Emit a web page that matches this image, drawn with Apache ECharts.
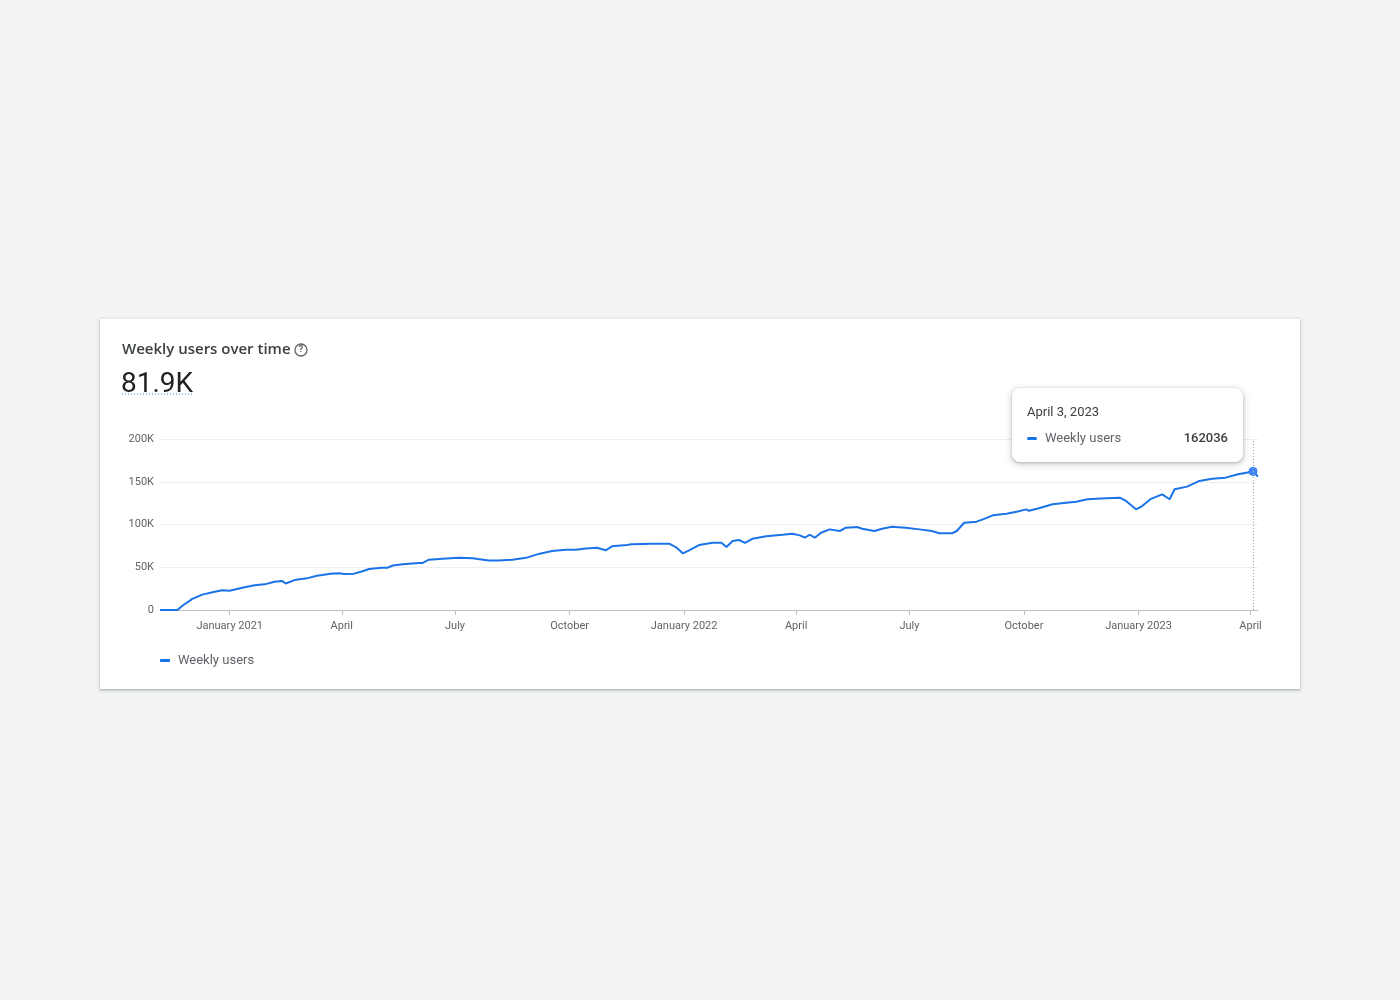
<!DOCTYPE html>
<html>
<head>
<meta charset="utf-8">
<script src="https://cdn.jsdelivr.net/npm/echarts@6/dist/echarts.min.js"></script>
<style>
  html, body { margin: 0; padding: 0; width: 1400px; height: 1000px; background: #f1f3f4; font-family: Roboto, sans-serif; }
  #card { position: absolute; left: 100px; top: 319px; width: 1200px; height: 370px; background: #fff;
          box-shadow: 0 1px 2px rgba(60,64,67,0.30), 0 1px 3px 1px rgba(60,64,67,0.12); }
  #chart { position: absolute; left: 0; top: 0; width: 1200px; height: 370px; }
</style>
</head>
<body>
<div id="card"><div id="chart"></div></div>
<script>
// ---- data ----
const dates = [
  '2020-11-06','2020-11-20','2020-11-24','2020-12-02','2020-12-10','2020-12-19','2020-12-26',
  '2021-01-01','2021-01-11','2021-01-21','2021-01-29','2021-02-06','2021-02-12','2021-02-15','2021-02-22',
  '2021-03-04','2021-03-12','2021-03-23','2021-03-30','2021-04-03','2021-04-11','2021-04-17','2021-04-23',
  '2021-05-03','2021-05-08','2021-05-12','2021-05-20','2021-06-02','2021-06-05','2021-06-10','2021-06-21',
  '2021-07-04','2021-07-15','2021-07-28','2021-08-05','2021-08-16','2021-08-27','2021-09-07','2021-09-17',
  '2021-09-28','2021-10-06','2021-10-14','2021-10-23','2021-10-30','2021-11-04','2021-11-16','2021-11-20',
  '2021-12-06','2021-12-20','2021-12-26','2021-12-31','2022-01-05','2022-01-13','2022-01-24','2022-01-31',
  '2022-02-04','2022-02-09','2022-02-14','2022-02-19','2022-02-25','2022-03-08','2022-03-21','2022-03-29',
  '2022-04-04','2022-04-08','2022-04-12','2022-04-16','2022-04-21','2022-04-28','2022-05-06','2022-05-11',
  '2022-05-20','2022-05-24','2022-06-03','2022-06-09','2022-06-17','2022-06-28','2022-07-09','2022-07-19',
  '2022-07-25','2022-08-04','2022-08-08','2022-08-14','2022-08-24','2022-08-29','2022-09-06','2022-09-17',
  '2022-09-25','2022-10-03','2022-10-05','2022-10-13','2022-10-24','2022-11-04','2022-11-12','2022-11-21',
  '2022-12-06','2022-12-17','2022-12-22','2022-12-30','2023-01-04','2023-01-11','2023-01-20','2023-01-26',
  '2023-01-30','2023-02-09','2023-02-19','2023-03-01','2023-03-12','2023-03-22','2023-04-03','2023-04-07'
];
const weeklyUsers = [
  0,0,5000,13000,18000,21000,23000,
  22500,26000,29000,30000,33000,34000,31000,35000,
  37000,40000,42500,43000,42000,42500,45000,48000,
  49500,49500,52000,53400,55000,55000,58800,60000,
  61000,60400,58000,58000,58800,61000,65900,69000,
  70500,70500,72000,72900,69800,74500,76000,76800,
  77600,77600,72900,66300,69800,76000,78700,78700,
  73700,80700,81900,78400,83400,86200,88000,89200,
  87300,84600,88000,84600,90400,94300,92400,96300,
  97000,95000,92400,95000,97400,96300,94300,92400,
  89700,89700,92400,102000,103300,106000,110700,112600,
  115000,117700,116000,119000,123600,125500,126700,129500,
  130600,131400,127500,117800,121600,130000,135300,129500,
  141200,144300,151000,153600,154800,158700,162036,156000
];
const tickDates = ['2021-01-01','2021-04-01','2021-07-01','2021-10-01','2022-01-01','2022-04-01','2022-07-01','2022-10-01','2023-01-01','2023-04-01'];
const tickLabels = ['January 2021','April','July','October','January 2022','April','July','October','January 2023','April'];
const yTickLabels = ['0','50K','100K','150K','200K'];
const seriesName = 'Weekly users';
const titleText = 'Weekly users over time';
const headlineValue = '81.9K';
const highlightDate = '2023-04-03';
const highlightLabel = 'April 3, 2023';

// ---- build ----
function ts(s) { const p = s.split('-').map(Number); return Date.UTC(p[0], p[1] - 1, p[2]); }
const seriesData = dates.map((d, i) => [ts(d), weeklyUsers[i]]);
const tickTimes = tickDates.map(ts);
const hiIndex = dates.indexOf(highlightDate);

const font = 'Roboto, "Noto Sans", sans-serif';
const chart = echarts.init(document.getElementById('chart'));
chart.setOption({
  animation: false,
  textStyle: { fontFamily: font },
  title: [
    { text: titleText, left: 22, top: 23, padding: 0,
      textStyle: { fontSize: 15, fontWeight: 600, color: '#3c4043', fontFamily: '"Open Sans", Roboto, sans-serif' } },
    { text: headlineValue, left: 21, top: 52, padding: 0,
      textStyle: { fontSize: 28, fontWeight: 400, color: '#202124', fontFamily: font } }
  ],
  graphic: [
    { type: 'circle', shape: { cx: 201, cy: 31, r: 6 }, style: { fill: 'none', stroke: '#5f6368', lineWidth: 1.3 } },
    { type: 'text', x: 201, y: 31, style: { text: '?', fontSize: 9, fontWeight: 700, fill: '#5f6368', align: 'center', verticalAlign: 'middle', fontFamily: font } },
    { type: 'line', shape: { x1: 22, y1: 75, x2: 92, y2: 75 }, style: { stroke: '#4285f4', lineWidth: 1, lineDash: [1, 2] } }
  ],
  grid: { left: 60, right: 42, top: 120, bottom: 79 },
  legend: {
    left: 55, top: 330, icon: 'roundRect', itemWidth: 10, itemHeight: 3, itemGap: 10,
    textStyle: { fontSize: 13, color: '#5f6368', fontFamily: font, padding: [0, 0, 0, 3] },
    data: [seriesName]
  },
  tooltip: {
    trigger: 'axis', triggerOn: 'none', alwaysShowContent: true,
    padding: 0, borderWidth: 0, backgroundColor: '#fff',
    extraCssText: 'border-radius:8px;box-shadow:0 1px 3px rgba(60,64,67,0.3),0 2px 6px 2px rgba(60,64,67,0.15);',
    position: function () { return [912, 69]; },
    axisPointer: { type: 'line', snap: true, label: { show: false }, lineStyle: { color: '#9aa0a6', type: [1, 2], width: 1 } },
    formatter: function (params) {
      const p = params[0];
      return '<div style="box-sizing:border-box;width:231px;height:74px;padding:15px 15px 0 15px;font-family:Roboto,sans-serif;">' +
        '<div style="font-size:13px;line-height:18px;color:#3c4043;">' + highlightLabel + '</div>' +
        '<div style="display:flex;align-items:center;margin-top:8px;font-size:13px;line-height:18px;color:#3c4043;">' +
        '<span style="display:inline-block;width:10px;height:3px;border-radius:2px;background:#1a73e8;margin-right:8px;"></span>' +
        '<span style="flex:1;color:#5f6368;">' + p.seriesName + '</span>' +
        '<span style="font-weight:500;color:#3c4043;">' + p.value[1] + '</span></div></div>';
    }
  },
  xAxis: {
    type: 'value',
    min: ts(dates[0]), max: ts(dates[dates.length - 1]),
    axisLine: { lineStyle: { color: '#bdc1c6', width: 1 } },
    axisTick: { show: true, customValues: tickTimes, length: 5, lineStyle: { color: '#bdc1c6' } },
    axisLabel: {
      customValues: tickTimes, margin: 11, fontSize: 11, color: '#5f6368', fontFamily: font,
      showMinLabel: true, showMaxLabel: true,
      formatter: function (v) { const i = tickTimes.indexOf(v); return i >= 0 ? tickLabels[i] : ''; }
    },
    splitLine: { show: false },
    axisPointer: { label: { show: false } }
  },
  yAxis: {
    type: 'value', min: 0, max: 200000, interval: 50000,
    axisLine: { show: false }, axisTick: { show: false },
    axisLabel: { margin: 6, fontSize: 11, color: '#5f6368', fontFamily: font,
      formatter: function (v) { return yTickLabels[Math.round(v / 50000)]; } },
    splitLine: { lineStyle: { color: '#eceef0', width: 1 } }
  },
  series: [{
    name: seriesName, type: 'line', data: seriesData,
    showSymbol: false, symbol: 'circle', symbolSize: 8,
    lineStyle: { color: '#1a73e8', width: 2 },
    itemStyle: { color: '#1a73e8' },
    emphasis: { disabled: true },
    markPoint: {
      symbol: 'circle', symbolSize: 8, label: { show: false },
      itemStyle: { color: '#4285f4' },
      data: [{ coord: seriesData[hiIndex] }]
    }
  }]
});
chart.dispatchAction({ type: 'showTip', seriesIndex: 0, dataIndex: hiIndex });
</script>
</body>
</html>
